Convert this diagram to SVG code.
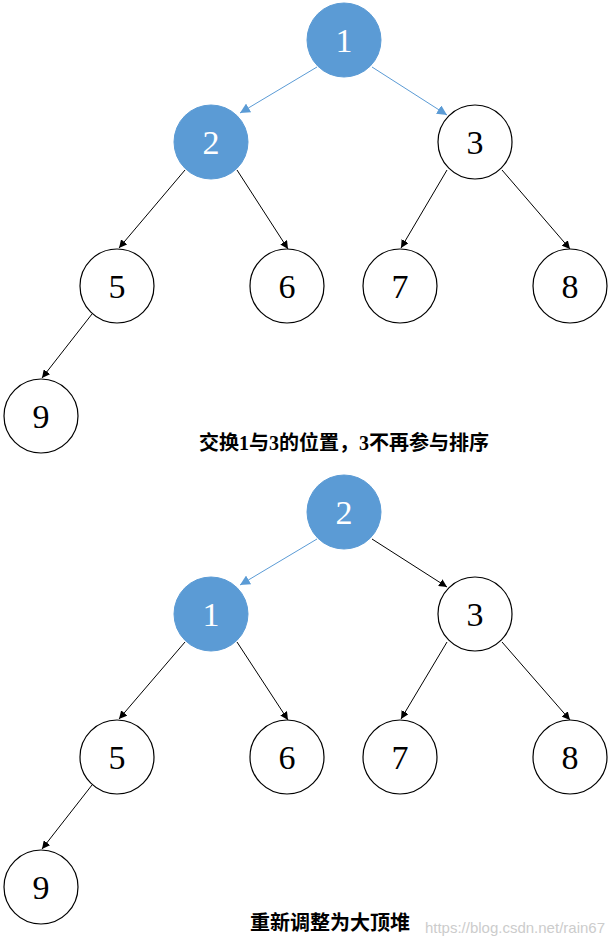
<svg xmlns="http://www.w3.org/2000/svg" width="613" height="950" viewBox="0 0 613 950">
<style>
.n{fill:#fff;stroke:#000;stroke-width:1.2}
.b{fill:#5b9bd5;stroke:#5b9bd5}
.t{font-family:"Liberation Serif",serif;font-size:34px;text-anchor:middle;fill:#000}
.w{fill:#fff}
.e{stroke:#000;stroke-width:1;fill:none}
.eb{stroke:#5b9bd5;stroke-width:1;fill:none}
.c{font-family:"Liberation Serif","Noto Sans CJK SC",serif;font-size:20px;font-weight:bold;text-anchor:middle}
</style>
<defs>
<marker id="a" viewBox="0 0 10 10" refX="10" refY="5" markerWidth="8" markerHeight="8" orient="auto" markerUnits="userSpaceOnUse"><path d="M0,0L10,5L0,10z" fill="#000"/></marker>
<marker id="ab" viewBox="0 0 10 10" refX="10" refY="5" markerWidth="10" markerHeight="10" orient="auto" markerUnits="userSpaceOnUse"><path d="M0,0L10,5L0,10z" fill="#5b9bd5"/></marker>
</defs>
<rect width="613" height="950" fill="#fff"/>
<g id="connectors">
<line class="eb" x1="317" y1="67" x2="240" y2="113" marker-end="url(#ab)"/>
<line class="eb" x1="372" y1="67" x2="447" y2="115" marker-end="url(#ab)"/>
<line class="e" x1="185" y1="170" x2="119" y2="248" marker-end="url(#a)"/>
<line class="e" x1="237" y1="170" x2="288" y2="249" marker-end="url(#a)"/>
<line class="e" x1="447" y1="170" x2="401" y2="248" marker-end="url(#a)"/>
<line class="e" x1="502" y1="170" x2="570" y2="249" marker-end="url(#a)"/>
<line class="e" x1="92" y1="314" x2="42" y2="378" marker-end="url(#a)"/>
<line class="eb" x1="317" y1="539" x2="240" y2="585" marker-end="url(#ab)"/>
<line class="e" x1="372" y1="539" x2="447" y2="587" marker-end="url(#a)"/>
<line class="e" x1="185" y1="642" x2="119" y2="719" marker-end="url(#a)"/>
<line class="e" x1="237" y1="642" x2="288" y2="720" marker-end="url(#a)"/>
<line class="e" x1="447" y1="642" x2="401" y2="719" marker-end="url(#a)"/>
<line class="e" x1="502" y1="642" x2="570" y2="720" marker-end="url(#a)"/>
<line class="e" x1="92" y1="785" x2="42" y2="849" marker-end="url(#a)"/>
</g>
<g id="t1"><circle class="b" cx="344" cy="40" r="37"/><text class="t w" x="344" y="52">1</text></g>
<g id="t2"><circle class="b" cx="211" cy="142" r="37"/><text class="t w" x="211" y="154">2</text></g>
<g id="t3"><circle class="n" cx="475" cy="142" r="37"/><text class="t" x="475" y="154">3</text></g>
<g id="t5"><circle class="n" cx="117" cy="286" r="37"/><text class="t" x="117" y="298">5</text></g>
<g id="t6"><circle class="n" cx="287" cy="286" r="37"/><text class="t" x="287" y="298">6</text></g>
<g id="t7"><circle class="n" cx="400" cy="286" r="37"/><text class="t" x="400" y="298">7</text></g>
<g id="t8"><circle class="n" cx="570" cy="286" r="37"/><text class="t" x="570" y="298">8</text></g>
<g id="t9"><circle class="n" cx="41" cy="416" r="37"/><text class="t" x="41" y="428">9</text></g>
<text class="c" x="344" y="450">交换1与3的位置，3不再参与排序</text>
<g id="b2"><circle class="b" cx="344" cy="512" r="37"/><text class="t w" x="344" y="524">2</text></g>
<g id="b1"><circle class="b" cx="211" cy="614" r="37"/><text class="t w" x="211" y="626">1</text></g>
<g id="b3"><circle class="n" cx="475" cy="614" r="37"/><text class="t" x="475" y="626">3</text></g>
<g id="b5"><circle class="n" cx="117" cy="757" r="37"/><text class="t" x="117" y="769">5</text></g>
<g id="b6"><circle class="n" cx="287" cy="757" r="37"/><text class="t" x="287" y="769">6</text></g>
<g id="b7"><circle class="n" cx="400" cy="757" r="37"/><text class="t" x="400" y="769">7</text></g>
<g id="b8"><circle class="n" cx="570" cy="757" r="37"/><text class="t" x="570" y="769">8</text></g>
<g id="b9"><circle class="n" cx="41" cy="887" r="37"/><text class="t" x="41" y="899">9</text></g>
<text class="c" x="330" y="930">重新调整为大顶堆</text>
<text x="605" y="933" font-family="Liberation Sans,sans-serif" font-size="15" fill="#ccc" text-anchor="end">https://blog.csdn.net/rain67</text>
</svg>
